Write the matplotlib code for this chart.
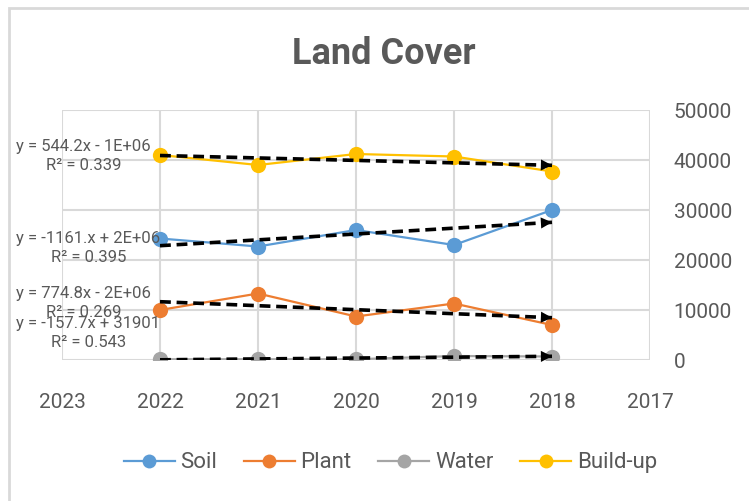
import numpy as np
import matplotlib.pyplot as plt
from matplotlib.patches import Rectangle
from matplotlib.lines import Line2D

years = [2022, 2021, 2020, 2019, 2018]
soil = [24300, 22700, 26000, 23000, 30000]
plant = [10000, 13300, 8700, 11300, 7000]
water = [150, 150, 150, 800, 700]
buildup = [41000, 39000, 41200, 40700, 37700]

names = ["Soil", "Plant", "Water", "Build-up"]
colors = ["#5B9BD5", "#ED7D31", "#A5A5A5", "#FFC000"]
equations = ["y = -1161.x + 2E+06\nR² = 0.395",
             "y = 774.8x - 2E+06\nR² = 0.269",
             "y = -157.7x + 31901\nR² = 0.543",
             "y = 544.2x - 1E+06\nR² = 0.339"]
eq_pos = [(0.022, 0.505), (0.022, 0.396), (0.022, 0.336), (0.022, 0.688)]

x_ticks = [2023, 2022, 2021, 2020, 2019, 2018, 2017]
y_ticks = [0, 10000, 20000, 30000, 40000, 50000]

font = "Roboto"
txt = "#595959"
grid = "#D9D9D9"

W, H = 749, 501
fig = plt.figure(figsize=(W / 100, H / 100), dpi=100)
fig.patches.append(Rectangle((9 / W, -0.1), 1.2, (H - 8) / H + 0.1, transform=fig.transFigure,
                             fill=False, edgecolor=grid, lw=2))

ax = fig.add_axes([62 / W, (H - 360) / H, 588 / W, 250 / H])
ax.set_xlim(2023, 2017)
ax.set_ylim(0, 50000)
ax.set_xticks(x_ticks)
ax.set_yticks(y_ticks)
ax.grid(True, color=grid, lw=1.5)
ax.set_axisbelow(True)
for s in ax.spines.values():
    s.set_visible(False)
ax.yaxis.tick_right()
ax.tick_params(length=0, labelcolor=txt)
ax.tick_params(axis="x", pad=24)
ax.tick_params(axis="y", pad=17)
for lab in ax.get_xticklabels() + ax.get_yticklabels():
    lab.set_fontfamily(font)
    lab.set_fontsize(15)

series = [soil, plant, water, buildup]
for vals, c, name in zip(series, colors, names):
    ax.plot(years, vals, color=c, lw=1.6, marker="o", markersize=11,
            markeredgewidth=0, label=name, zorder=3)

x = np.array(years, dtype=float)
for vals in series:
    k, b = np.polyfit(x, vals, 1)
    ax.plot([x[0], x[-1]], [k * x[0] + b, k * x[-1] + b], color="black",
            lw=2.6, ls=(0, (3, 1.6)), zorder=4)
    xs = x[-1] + 0.3
    ax.annotate("", xy=(x[-1], k * x[-1] + b), xytext=(xs, k * xs + b),
                arrowprops=dict(arrowstyle="-|>", color="black", lw=0,
                                mutation_scale=20, shrinkA=0, shrinkB=0), zorder=5)

for eq, (px, py) in zip(equations, eq_pos):
    fig.text(px, py, eq, fontfamily=font, fontsize=12, color=txt,
             ha="left", va="center", linespacing=1.35, multialignment="center")

fig.text(0.513, 0.893, "Land Cover", fontfamily=font, fontweight="bold",
         fontsize=26, color=txt, ha="center", va="center")

handles = [Line2D([], [], color=c, lw=1.6, marker="o", markersize=10,
                  markeredgewidth=0) for c in colors]
leg = fig.legend(handles, names, loc="center", bbox_to_anchor=(0.521, 0.076),
                 ncol=4, frameon=False, handlelength=2.3, columnspacing=1.2,
                 handletextpad=0.25, prop=dict(family=font, size=16))
for t in leg.get_texts():
    t.set_color(txt)

fig.savefig("out.png", dpi=100)
